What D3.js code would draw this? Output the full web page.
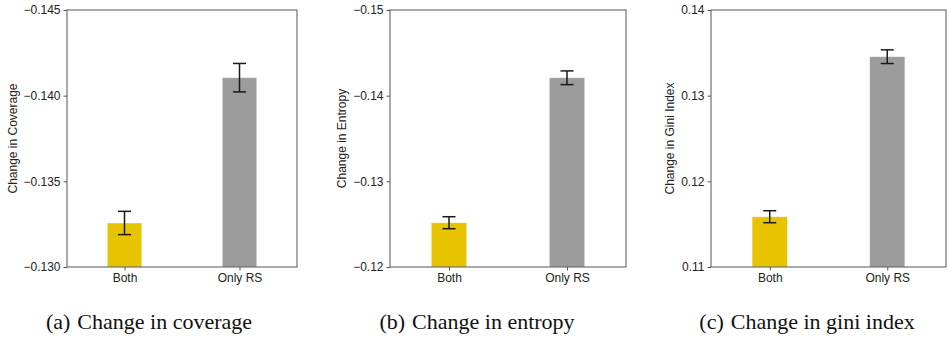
<!DOCTYPE html>
<html>
<head>
<meta charset="utf-8">
<script src="https://cdn.jsdelivr.net/npm/d3@7"></script>
<style>
  body { margin: 0; background: #fff; }
  svg { display: block; }
</style>
</head>
<body>
<div id="chart"></div>
<script>
// data
const categories = ["Both", "Only RS"];
const barColors = ["#e8c300", "#9c9c9c"];

const coverageMeans = [-0.13257, -0.14105];
const coverageErr = [0.00068, 0.00083];
const coverageTicks = [-0.145, -0.140, -0.135, -0.130];

const entropyMeans = [-0.12517, -0.14209];
const entropyErr = [0.0007, 0.0008];
const entropyTicks = [-0.15, -0.14, -0.13, -0.12];

const giniMeans = [0.11587, 0.13455];
const giniErr = [0.0007, 0.0008];
const giniTicks = [0.14, 0.13, 0.12, 0.11];

const panels = [
  { means: coverageMeans, err: coverageErr, ticks: coverageTicks, fmt: ".3f",
    yLabel: "Change in Coverage", tag: "(a)", caption: "Change in coverage",
    left: 67, right: 297, labelX: 13, capX: 149 },
  { means: entropyMeans, err: entropyErr, ticks: entropyTicks, fmt: ".2f",
    yLabel: "Change in Entropy", tag: "(b)", caption: "Change in entropy",
    left: 390, right: 626, labelX: 342, capX: 477 },
  { means: giniMeans, err: giniErr, ticks: giniTicks, fmt: ".2f",
    yLabel: "Change in Gini Index", tag: "(c)", caption: "Change in gini index",
    left: 711, right: 946, labelX: 670, capX: 807 }
];

const width = 950, height = 339;
const plotTop = 10, plotBottom = 267;
const barWidth = 0.3;

const svg = d3.select("#chart")
  .append("svg")
  .attr("width", width)
  .attr("height", height);

panels.forEach(p => {
  const g = svg.append("g");

  // first tick is the top of the axis, last is the base the bars grow from
  const y = d3.scaleLinear()
    .domain([p.ticks[p.ticks.length - 1], p.ticks[0]])
    .range([plotBottom, plotTop]);
  const x = d3.scaleLinear()
    .domain([-0.5, 1.5])
    .range([p.left, p.right]);

  // bars
  g.selectAll("rect.bar")
    .data(p.means)
    .enter()
    .append("rect")
    .attr("class", "bar")
    .attr("x", (d, i) => x(i - barWidth / 2))
    .attr("width", x(barWidth) - x(0))
    .attr("y", d => Math.min(y(d), plotBottom))
    .attr("height", d => Math.abs(plotBottom - y(d)))
    .attr("fill", (d, i) => barColors[i])
    .attr("stroke", "#ffffff")
    .attr("stroke-opacity", 0.5)
    .attr("stroke-width", 0.8);

  // error bars
  const eb = g.selectAll("g.err")
    .data(p.means)
    .enter()
    .append("g")
    .attr("class", "err")
    .attr("stroke", "#1a1a1a")
    .attr("stroke-width", 1.5);

  eb.append("line")
    .attr("x1", (d, i) => x(i))
    .attr("x2", (d, i) => x(i))
    .attr("y1", (d, i) => y(d - p.err[i]))
    .attr("y2", (d, i) => y(d + p.err[i]));

  [-1, 1].forEach(s => {
    eb.append("line")
      .attr("x1", (d, i) => x(i) - 6.5)
      .attr("x2", (d, i) => x(i) + 6.5)
      .attr("y1", (d, i) => y(d + s * p.err[i]))
      .attr("y2", (d, i) => y(d + s * p.err[i]));
  });

  // axes
  const yAxis = d3.axisLeft(y)
    .tickValues(p.ticks)
    .tickFormat(d3.format(p.fmt))
    .tickSizeOuter(0)
    .tickSize(3.5)
    .tickPadding(3);
  const xAxis = d3.axisBottom(x)
    .tickValues([0, 1])
    .tickFormat(i => categories[i])
    .tickSizeOuter(0)
    .tickSize(3.5)
    .tickPadding(3);

  const ya = g.append("g")
    .attr("transform", `translate(${p.left},0)`)
    .call(yAxis);
  const xa = g.append("g")
    .attr("transform", `translate(0,${plotBottom})`)
    .call(xAxis);

  [ya, xa].forEach(a => {
    a.select(".domain").remove();
    a.selectAll("line").attr("stroke", "#555");
    a.selectAll("text")
      .attr("fill", "#222")
      .style("font-family", "'Liberation Sans', Arial, sans-serif")
      .style("font-size", "12px");
  });

  // frame
  g.append("rect")
    .attr("x", p.left)
    .attr("y", plotTop)
    .attr("width", p.right - p.left)
    .attr("height", plotBottom - plotTop)
    .attr("fill", "none")
    .attr("stroke", "#555")
    .attr("stroke-width", 1);

  // y label
  g.append("text")
    .attr("transform", `translate(${p.labelX},${(plotTop + plotBottom) / 2}) rotate(-90)`)
    .attr("text-anchor", "middle")
    .attr("dy", "0.35em")
    .attr("fill", "#222")
    .style("font-family", "'Liberation Sans', Arial, sans-serif")
    .style("font-size", "12px")
    .text(p.yLabel);

  // caption
  const cap = g.append("text")
    .attr("x", p.capX)
    .attr("y", 329)
    .attr("text-anchor", "middle")
    .attr("fill", "#111")
    .style("font-family", "'Liberation Serif', 'Times New Roman', serif")
    .style("font-size", "22px");
  cap.append("tspan").text(p.tag);
  cap.append("tspan").attr("dx", 7).text(p.caption);
});
</script>
</body>
</html>
